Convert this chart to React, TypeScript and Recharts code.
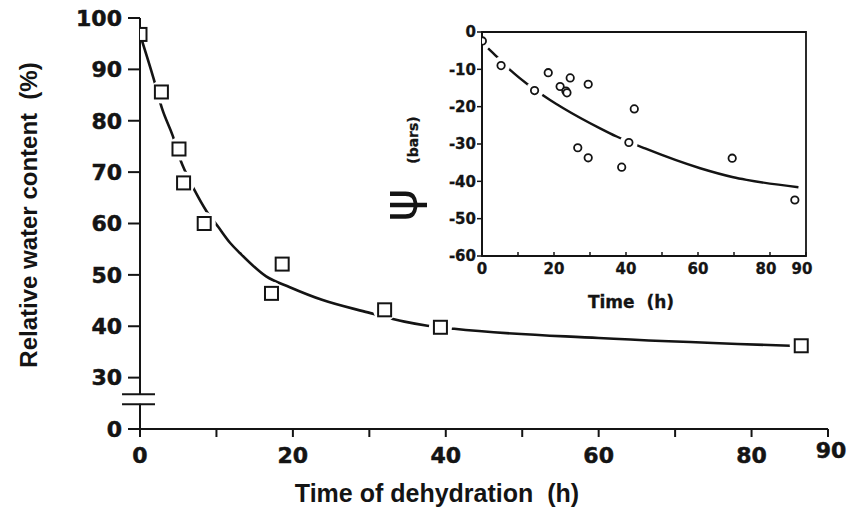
import React from 'react'
import { ComposedChart, XAxis, YAxis, Line, Scatter, ReferenceLine, ReferenceArea } from 'recharts'

const INK = '#141414'

// main panel: relative water content vs hours of dehydration
const hours = [0, 2.8, 5.1, 5.7, 8.4, 17.2, 18.6, 32.0, 39.3, 86.5]
const rwc = [96.8, 85.6, 74.5, 67.9, 60.0, 46.4, 52.1, 43.2, 39.8, 36.2]
const fitHours = [0, 1.8, 2.9, 4.3, 5.3, 5.9, 7.2, 8.7, 10.2, 11.8, 13.1, 16.5, 19.6, 23.9, 29.8, 34.6, 37.6, 41.1, 60, 85.1]
const fitRwc = [96.8, 88.1, 82.3, 77.0, 72.3, 70.2, 66.3, 62.4, 59.4, 56.2, 54.2, 49.7, 47.6, 45.1, 42.7, 40.9, 40.1, 39.5, 37.7, 36.2]
const mainXTicks = [0, 10, 20, 30, 40, 50, 60, 70, 80, 90]
const mainXLabels = [0, 20, 40, 60, 80, 90]
// 20 sits under the axis break and is labelled "0"
const mainYTicks = [20, 30, 40, 50, 60, 70, 80, 90, 100]

// inset: water potential (bars) vs time
const psiHours = [0.1, 5.3, 14.6, 18.4, 21.7, 23.3, 23.6, 24.5, 26.6, 29.5, 29.5, 38.8, 40.8, 42.3, 69.5, 86.9]
const psiBars = [-2.4, -9.0, -15.7, -10.9, -14.6, -15.8, -16.3, -12.3, -31.0, -14.0, -33.7, -36.2, -29.6, -20.6, -33.8, -45.0]
const psiFitHours = [1.7, 4.1, 8.2, 12.9, 18.9, 22.6, 32.8, 37.4, 45.3, 60.6, 69.8, 73.5, 87.9]
const psiFitBars = [-4.4, -6.6, -10.5, -14.2, -18.2, -20.4, -25.8, -28.0, -31.2, -36.5, -38.9, -39.6, -41.6]
const insetXTicks = [0, 10, 20, 30, 40, 50, 60, 70, 80, 90]
const insetXLabels = [0, 20, 40, 60, 80, 90]
const insetYTicks = [-60, -50, -40, -30, -20, -10, 0]

const zip = (xs: number[], ys: number[]) => xs.map((x, i) => ({ x, y: ys[i] }))
const mainPts = zip(hours, rwc)
const mainFit = zip(fitHours, fitRwc)
const psiPts = zip(psiHours, psiBars)
const psiFit = zip(psiFitHours, psiFitBars)

const tickFont = { fontFamily: 'DejaVu Sans', fontWeight: 700, fontSize: 22, fill: INK, stroke: INK, strokeWidth: 0.5 }
const insetFont = { fontFamily: 'DejaVu Sans', fontWeight: 700, fontSize: 15, fill: INK, stroke: INK, strokeWidth: 0.3 }
const titleFont = { fontFamily: 'Liberation Sans', fontWeight: 700, fill: INK, whiteSpace: 'pre' as const }

const square = (p: any) => (
  <rect x={p.cx - 6.5} y={p.cy - 6.5} width={13} height={13} fill="#fff" stroke={INK} strokeWidth={2} />
)
const squareHalo = (p: any) => <circle cx={p.cx} cy={p.cy} r={11.5} fill="#fff" />
const ring = (p: any) => <circle cx={p.cx} cy={p.cy} r={3.7} fill="#fff" stroke={INK} strokeWidth={1.8} />
const ringHalo = (p: any) => <circle cx={p.cx} cy={p.cy} r={9} fill="#fff" />

function MainXTick(p: any) {
  const v = p.payload.value
  if (!mainXLabels.includes(v)) return <g />
  const end = v === 90
  return (
    <text x={p.x + (end ? 3 : 0)} y={p.y + (end ? -5 : 0)} dy="0.72em" textAnchor="middle" style={tickFont}>
      {v}
    </text>
  )
}

function InsetXTick(p: any) {
  const v = p.payload.value
  const base = p.y - 7
  return (
    <g>
      <line x1={p.x} x2={p.x} y1={base} y2={base - 4} stroke={INK} strokeWidth={1.5} />
      {insetXLabels.includes(v) && (
        <text x={p.x + (v >= 80 ? -4 : 0)} y={p.y} dy="0.72em" textAnchor="middle" style={insetFont}>
          {v}
        </text>
      )}
    </g>
  )
}

const axisStroke = { stroke: INK, strokeWidth: 2 }

export default function App() {
  return (
    <div style={{ position: 'absolute', left: 0, top: 0, width: 853, height: 510, background: '#fff' }}>
      <div style={{ position: 'absolute', left: 0, top: 0 }}>
        <ComposedChart width={853} height={510} margin={{ top: 18, right: 25, bottom: 41, left: 60 }}>
          <XAxis
            type="number"
            dataKey="x"
            domain={[0, 90]}
            ticks={mainXTicks}
            interval={0}
            height={40}
            tickSize={8}
            tickMargin={10}
            axisLine={axisStroke}
            tickLine={axisStroke}
            tick={MainXTick}
            allowDataOverflow
          />
          <XAxis xAxisId="top" orientation="top" type="number" domain={[0, 90]} height={0} tick={false} tickLine={false} axisLine={axisStroke} allowDataOverflow />
          <YAxis
            type="number"
            dataKey="y"
            domain={[20, 100]}
            ticks={mainYTicks}
            interval={0}
            width={80}
            tickSize={12}
            tickMargin={6}
            axisLine={false}
            tickLine={axisStroke}
            tick={tickFont}
            tickFormatter={(v: number) => (v === 20 ? '0' : String(v))}
            allowDataOverflow
          />
          <YAxis yAxisId="right" orientation="right" type="number" domain={[20, 100]} width={0} tick={false} tickLine={false} axisLine={axisStroke} allowDataOverflow />

          {/* broken y axis */}
          <ReferenceLine segment={[{ x: 0, y: 20 }, { x: 0, y: 24.9 }]} stroke={INK} strokeWidth={2} ifOverflow="visible" />
          <ReferenceLine segment={[{ x: 0, y: 26.7 }, { x: 0, y: 100 }]} stroke={INK} strokeWidth={2} ifOverflow="visible" />
          <ReferenceLine segment={[{ x: -2.35, y: 26.75 }, { x: 1.96, y: 26.75 }]} stroke={INK} strokeWidth={2} ifOverflow="visible" />
          <ReferenceLine segment={[{ x: -2.35, y: 24.8 }, { x: 1.96, y: 24.8 }]} stroke={INK} strokeWidth={2} ifOverflow="visible" />

          <Line data={mainFit} dataKey="y" type="monotone" stroke={INK} strokeWidth={2.6} dot={false} activeDot={false} isAnimationActive={false} />
          <Scatter data={mainPts.slice(1)} dataKey="y" shape={squareHalo} isAnimationActive={false} />
          <Scatter data={mainPts} dataKey="y" shape={square} isAnimationActive={false} />
        </ComposedChart>
      </div>

      <div style={{ position: 'absolute', left: 400, top: 20 }}>
        <ComposedChart width={420} height={300} margin={{ top: 12, right: 14, bottom: 40, left: 32 }}>
          <XAxis
            type="number"
            dataKey="x"
            domain={[0, 90]}
            ticks={insetXTicks}
            interval={0}
            height={24}
            tickSize={0}
            tickMargin={7}
            axisLine={{ stroke: INK, strokeWidth: 1.8 }}
            tickLine={false}
            tick={InsetXTick}
            allowDataOverflow
          />
          <YAxis
            type="number"
            dataKey="y"
            domain={[-60, 0]}
            ticks={insetYTicks}
            interval={0}
            width={50}
            tickSize={5}
            tickMargin={1}
            axisLine={{ stroke: INK, strokeWidth: 1.8 }}
            tickLine={{ stroke: INK, strokeWidth: 1.5 }}
            tick={insetFont}
            allowDataOverflow
          />
          <ReferenceArea x1={0} x2={90} y1={-60} y2={0} fill="none" stroke={INK} strokeWidth={1.8} ifOverflow="visible" />
          <Line data={psiFit} dataKey="y" type="monotone" stroke={INK} strokeWidth={2.4} dot={false} activeDot={false} isAnimationActive={false} />
          <Scatter data={psiPts.slice(1)} dataKey="y" shape={ringHalo} isAnimationActive={false} />
          <Scatter data={psiPts} dataKey="y" shape={ring} isAnimationActive={false} />
        </ComposedChart>
      </div>

      <svg width={853} height={510} style={{ position: 'absolute', left: 0, top: 0, pointerEvents: 'none' }}>
        <text x={437} y={502} textAnchor="middle" fontSize={25} style={titleFont} xmlSpace="preserve">
          Time of dehydration  (h)
        </text>
        <text transform="translate(37,215) rotate(-90)" textAnchor="middle" fontSize={24} style={titleFont} xmlSpace="preserve">
          Relative water content  (%)
        </text>
        <text x={631} y={308} textAnchor="middle" style={{ ...insetFont, fontSize: 17, whiteSpace: 'pre' }} xmlSpace="preserve">
          Time  (h)
        </text>
        <text transform="translate(418,140) rotate(-90)" textAnchor="middle" style={{ ...insetFont, fontSize: 14 }}>
          (bars)
        </text>
        <text transform="translate(417,205) rotate(-90)" textAnchor="middle" fontFamily="DejaVu Sans" fontWeight={400} fontSize={50} fill={INK}>
          ψ
        </text>
      </svg>
    </div>
  )
}
